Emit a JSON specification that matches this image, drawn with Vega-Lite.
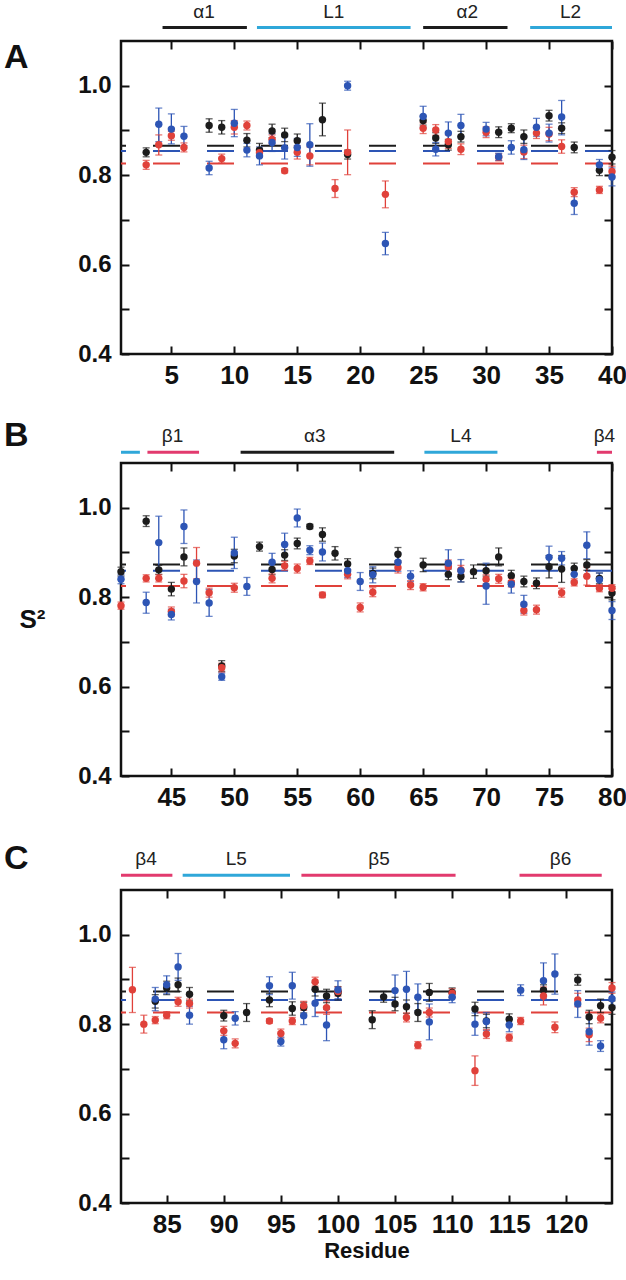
{
"$schema": "https://vega.github.io/schema/vega-lite/v6.json",
"padding": {"left": 2, "top": 2, "right": 0, "bottom": 4},
"background": "white",
"config": {
  "view": {"stroke": "#111", "strokeWidth": 2.5},
  "axis": {"domain": false, "grid": false, "tickSize": -8, "tickWidth": 2, "tickColor": "#111", "labelColor": "#111", "labelFont": "Liberation Sans", "labelFontWeight": "bold", "titleFont": "Liberation Sans", "titleFontWeight": "bold", "titleColor": "#111"}
},
"datasets": {
"avg": [
 {"p":"A","s":"k","v":0.866},{"p":"A","s":"b","v":0.854},{"p":"A","s":"r","v":0.826},
 {"p":"B","s":"k","v":0.873},{"p":"B","s":"b","v":0.859},{"p":"B","s":"r","v":0.825},
 {"p":"C","s":"k","v":0.873},{"p":"C","s":"b","v":0.854},{"p":"C","s":"r","v":0.826}
],
"ss": [
 {"p":"A","t":"H","a":4.3,"b":11,"m":7.6,"n":"α1"},
 {"p":"A","t":"L","a":11.8,"b":24,"m":17.9,"n":"L1"},
 {"p":"A","t":"H","a":25,"b":31.7,"m":28.5,"n":"α2"},
 {"p":"A","t":"L","a":33.5,"b":40,"m":36.7,"n":"L2"},
 {"p":"B","t":"L","a":41,"b":42.5,"m":41.7,"n":""},
 {"p":"B","t":"E","a":43.1,"b":47.2,"m":45.1,"n":"β1"},
 {"p":"B","t":"H","a":50.5,"b":62.7,"m":56.4,"n":"α3"},
 {"p":"B","t":"L","a":65.1,"b":70.9,"m":68,"n":"L4"},
 {"p":"B","t":"E","a":78.8,"b":80,"m":79.4,"n":"β4"},
 {"p":"C","t":"E","a":81,"b":85.5,"m":83.2,"n":"β4"},
 {"p":"C","t":"L","a":86.4,"b":95.8,"m":91.1,"n":"L5"},
 {"p":"C","t":"E","a":96.8,"b":110.3,"m":103.6,"n":"β5"},
 {"p":"C","t":"E","a":115.9,"b":123.1,"m":119.5,"n":"β6"}
],
"pts": [
 {"p":"A","r":3,"s":"k","v":0.851,"lo":0.841,"hi":0.861},
 {"p":"A","r":8,"s":"k","v":0.911,"lo":0.896,"hi":0.926},
 {"p":"A","r":9,"s":"k","v":0.907,"lo":0.892,"hi":0.922},
 {"p":"A","r":11,"s":"k","v":0.878,"lo":0.863,"hi":0.893},
 {"p":"A","r":12,"s":"k","v":0.856,"lo":0.841,"hi":0.871},
 {"p":"A","r":13,"s":"k","v":0.899,"lo":0.884,"hi":0.914},
 {"p":"A","r":14,"s":"k","v":0.89,"lo":0.875,"hi":0.905},
 {"p":"A","r":15,"s":"k","v":0.877,"lo":0.862,"hi":0.892},
 {"p":"A","r":17,"s":"k","v":0.924,"lo":0.888,"hi":0.961},
 {"p":"A","r":19,"s":"k","v":0.846,"lo":0.836,"hi":0.856},
 {"p":"A","r":25,"s":"k","v":0.922,"lo":0.912,"hi":0.932},
 {"p":"A","r":26,"s":"k","v":0.883,"lo":0.871,"hi":0.895},
 {"p":"A","r":27,"s":"k","v":0.868,"lo":0.856,"hi":0.88},
 {"p":"A","r":28,"s":"k","v":0.886,"lo":0.874,"hi":0.898},
 {"p":"A","r":31,"s":"k","v":0.896,"lo":0.884,"hi":0.908},
 {"p":"A","r":32,"s":"k","v":0.905,"lo":0.895,"hi":0.915},
 {"p":"A","r":33,"s":"k","v":0.886,"lo":0.871,"hi":0.901},
 {"p":"A","r":35,"s":"k","v":0.933,"lo":0.921,"hi":0.945},
 {"p":"A","r":36,"s":"k","v":0.905,"lo":0.893,"hi":0.917},
 {"p":"A","r":37,"s":"k","v":0.862,"lo":0.85,"hi":0.874},
 {"p":"A","r":39,"s":"k","v":0.811,"lo":0.799,"hi":0.823},
 {"p":"A","r":40,"s":"k","v":0.84,"lo":0.825,"hi":0.855},
 {"p":"A","r":3,"s":"r","v":0.823,"lo":0.813,"hi":0.833},
 {"p":"A","r":4,"s":"r","v":0.868,"lo":0.845,"hi":0.89},
 {"p":"A","r":5,"s":"r","v":0.888,"lo":0.878,"hi":0.898},
 {"p":"A","r":6,"s":"r","v":0.862,"lo":0.852,"hi":0.872},
 {"p":"A","r":9,"s":"r","v":0.837,"lo":0.827,"hi":0.847},
 {"p":"A","r":10,"s":"r","v":0.907,"lo":0.892,"hi":0.922},
 {"p":"A","r":11,"s":"r","v":0.911,"lo":0.901,"hi":0.921},
 {"p":"A","r":12,"s":"r","v":0.85,"lo":0.84,"hi":0.86},
 {"p":"A","r":13,"s":"r","v":0.88,"lo":0.87,"hi":0.89},
 {"p":"A","r":14,"s":"r","v":0.81,"lo":0.805,"hi":0.815},
 {"p":"A","r":15,"s":"r","v":0.851,"lo":0.836,"hi":0.866},
 {"p":"A","r":16,"s":"r","v":0.843,"lo":0.823,"hi":0.863},
 {"p":"A","r":18,"s":"r","v":0.77,"lo":0.75,"hi":0.79},
 {"p":"A","r":19,"s":"r","v":0.851,"lo":0.801,"hi":0.901},
 {"p":"A","r":22,"s":"r","v":0.757,"lo":0.727,"hi":0.787},
 {"p":"A","r":25,"s":"r","v":0.905,"lo":0.893,"hi":0.917},
 {"p":"A","r":26,"s":"r","v":0.901,"lo":0.889,"hi":0.913},
 {"p":"A","r":27,"s":"r","v":0.875,"lo":0.86,"hi":0.89},
 {"p":"A","r":28,"s":"r","v":0.858,"lo":0.846,"hi":0.87},
 {"p":"A","r":30,"s":"r","v":0.896,"lo":0.884,"hi":0.908},
 {"p":"A","r":31,"s":"r","v":0.84,"lo":0.832,"hi":0.848},
 {"p":"A","r":33,"s":"r","v":0.852,"lo":0.837,"hi":0.867},
 {"p":"A","r":34,"s":"r","v":0.894,"lo":0.882,"hi":0.906},
 {"p":"A","r":35,"s":"r","v":0.892,"lo":0.877,"hi":0.907},
 {"p":"A","r":36,"s":"r","v":0.864,"lo":0.849,"hi":0.879},
 {"p":"A","r":37,"s":"r","v":0.762,"lo":0.752,"hi":0.772},
 {"p":"A","r":39,"s":"r","v":0.767,"lo":0.759,"hi":0.775},
 {"p":"A","r":40,"s":"r","v":0.808,"lo":0.796,"hi":0.82},
 {"p":"A","r":4,"s":"b","v":0.914,"lo":0.875,"hi":0.95},
 {"p":"A","r":5,"s":"b","v":0.903,"lo":0.87,"hi":0.937},
 {"p":"A","r":6,"s":"b","v":0.887,"lo":0.866,"hi":0.909},
 {"p":"A","r":8,"s":"b","v":0.816,"lo":0.801,"hi":0.831},
 {"p":"A","r":10,"s":"b","v":0.916,"lo":0.886,"hi":0.947},
 {"p":"A","r":11,"s":"b","v":0.856,"lo":0.841,"hi":0.871},
 {"p":"A","r":12,"s":"b","v":0.843,"lo":0.823,"hi":0.863},
 {"p":"A","r":13,"s":"b","v":0.873,"lo":0.853,"hi":0.893},
 {"p":"A","r":14,"s":"b","v":0.861,"lo":0.836,"hi":0.886},
 {"p":"A","r":15,"s":"b","v":0.862,"lo":0.842,"hi":0.882},
 {"p":"A","r":16,"s":"b","v":0.868,"lo":0.82,"hi":0.915},
 {"p":"A","r":19,"s":"b","v":1.0,"lo":0.99,"hi":1.01},
 {"p":"A","r":22,"s":"b","v":0.647,"lo":0.622,"hi":0.672},
 {"p":"A","r":25,"s":"b","v":0.931,"lo":0.907,"hi":0.954},
 {"p":"A","r":26,"s":"b","v":0.858,"lo":0.843,"hi":0.873},
 {"p":"A","r":27,"s":"b","v":0.894,"lo":0.869,"hi":0.919},
 {"p":"A","r":28,"s":"b","v":0.911,"lo":0.886,"hi":0.936},
 {"p":"A","r":30,"s":"b","v":0.903,"lo":0.888,"hi":0.918},
 {"p":"A","r":31,"s":"b","v":0.841,"lo":0.833,"hi":0.849},
 {"p":"A","r":32,"s":"b","v":0.862,"lo":0.847,"hi":0.877},
 {"p":"A","r":33,"s":"b","v":0.857,"lo":0.835,"hi":0.885},
 {"p":"A","r":34,"s":"b","v":0.907,"lo":0.887,"hi":0.927},
 {"p":"A","r":35,"s":"b","v":0.894,"lo":0.874,"hi":0.914},
 {"p":"A","r":36,"s":"b","v":0.93,"lo":0.89,"hi":0.967},
 {"p":"A","r":37,"s":"b","v":0.737,"lo":0.712,"hi":0.762},
 {"p":"A","r":39,"s":"b","v":0.823,"lo":0.811,"hi":0.835},
 {"p":"A","r":40,"s":"b","v":0.796,"lo":0.776,"hi":0.816},
 {"p":"B","r":41,"s":"k","v":0.857,"lo":0.847,"hi":0.867},
 {"p":"B","r":43,"s":"k","v":0.97,"lo":0.958,"hi":0.982},
 {"p":"B","r":44,"s":"k","v":0.861,"lo":0.851,"hi":0.871},
 {"p":"B","r":45,"s":"k","v":0.818,"lo":0.803,"hi":0.833},
 {"p":"B","r":46,"s":"k","v":0.89,"lo":0.87,"hi":0.91},
 {"p":"B","r":49,"s":"k","v":0.646,"lo":0.634,"hi":0.658},
 {"p":"B","r":50,"s":"k","v":0.892,"lo":0.877,"hi":0.907},
 {"p":"B","r":52,"s":"k","v":0.913,"lo":0.903,"hi":0.923},
 {"p":"B","r":53,"s":"k","v":0.862,"lo":0.85,"hi":0.874},
 {"p":"B","r":54,"s":"k","v":0.894,"lo":0.882,"hi":0.906},
 {"p":"B","r":55,"s":"k","v":0.92,"lo":0.908,"hi":0.932},
 {"p":"B","r":56,"s":"k","v":0.958,"lo":0.953,"hi":0.963},
 {"p":"B","r":57,"s":"k","v":0.94,"lo":0.925,"hi":0.955},
 {"p":"B","r":58,"s":"k","v":0.898,"lo":0.883,"hi":0.913},
 {"p":"B","r":59,"s":"k","v":0.874,"lo":0.862,"hi":0.886},
 {"p":"B","r":61,"s":"k","v":0.853,"lo":0.841,"hi":0.865},
 {"p":"B","r":63,"s":"k","v":0.896,"lo":0.881,"hi":0.911},
 {"p":"B","r":65,"s":"k","v":0.872,"lo":0.857,"hi":0.887},
 {"p":"B","r":67,"s":"k","v":0.851,"lo":0.839,"hi":0.863},
 {"p":"B","r":68,"s":"k","v":0.846,"lo":0.834,"hi":0.858},
 {"p":"B","r":69,"s":"k","v":0.857,"lo":0.842,"hi":0.872},
 {"p":"B","r":70,"s":"k","v":0.859,"lo":0.847,"hi":0.871},
 {"p":"B","r":71,"s":"k","v":0.89,"lo":0.87,"hi":0.91},
 {"p":"B","r":72,"s":"k","v":0.848,"lo":0.836,"hi":0.86},
 {"p":"B","r":73,"s":"k","v":0.835,"lo":0.823,"hi":0.847},
 {"p":"B","r":74,"s":"k","v":0.831,"lo":0.819,"hi":0.843},
 {"p":"B","r":75,"s":"k","v":0.868,"lo":0.843,"hi":0.893},
 {"p":"B","r":76,"s":"k","v":0.863,"lo":0.833,"hi":0.893},
 {"p":"B","r":77,"s":"k","v":0.864,"lo":0.852,"hi":0.876},
 {"p":"B","r":78,"s":"k","v":0.872,"lo":0.86,"hi":0.884},
 {"p":"B","r":79,"s":"k","v":0.842,"lo":0.83,"hi":0.854},
 {"p":"B","r":80,"s":"k","v":0.809,"lo":0.794,"hi":0.824},
 {"p":"B","r":41,"s":"r","v":0.781,"lo":0.773,"hi":0.789},
 {"p":"B","r":43,"s":"r","v":0.842,"lo":0.834,"hi":0.85},
 {"p":"B","r":44,"s":"r","v":0.842,"lo":0.834,"hi":0.85},
 {"p":"B","r":45,"s":"r","v":0.768,"lo":0.758,"hi":0.778},
 {"p":"B","r":46,"s":"r","v":0.836,"lo":0.821,"hi":0.851},
 {"p":"B","r":47,"s":"r","v":0.876,"lo":0.841,"hi":0.911},
 {"p":"B","r":48,"s":"r","v":0.81,"lo":0.8,"hi":0.82},
 {"p":"B","r":49,"s":"r","v":0.642,"lo":0.632,"hi":0.652},
 {"p":"B","r":50,"s":"r","v":0.821,"lo":0.811,"hi":0.831},
 {"p":"B","r":53,"s":"r","v":0.842,"lo":0.832,"hi":0.852},
 {"p":"B","r":54,"s":"r","v":0.87,"lo":0.86,"hi":0.88},
 {"p":"B","r":55,"s":"r","v":0.864,"lo":0.854,"hi":0.874},
 {"p":"B","r":56,"s":"r","v":0.881,"lo":0.873,"hi":0.889},
 {"p":"B","r":57,"s":"r","v":0.805,"lo":0.799,"hi":0.811},
 {"p":"B","r":59,"s":"r","v":0.851,"lo":0.841,"hi":0.861},
 {"p":"B","r":60,"s":"r","v":0.777,"lo":0.767,"hi":0.787},
 {"p":"B","r":61,"s":"r","v":0.811,"lo":0.801,"hi":0.821},
 {"p":"B","r":63,"s":"r","v":0.866,"lo":0.854,"hi":0.878},
 {"p":"B","r":64,"s":"r","v":0.827,"lo":0.817,"hi":0.837},
 {"p":"B","r":65,"s":"r","v":0.822,"lo":0.814,"hi":0.83},
 {"p":"B","r":67,"s":"r","v":0.868,"lo":0.853,"hi":0.883},
 {"p":"B","r":68,"s":"r","v":0.861,"lo":0.851,"hi":0.871},
 {"p":"B","r":70,"s":"r","v":0.84,"lo":0.83,"hi":0.85},
 {"p":"B","r":71,"s":"r","v":0.841,"lo":0.831,"hi":0.851},
 {"p":"B","r":72,"s":"r","v":0.833,"lo":0.823,"hi":0.843},
 {"p":"B","r":73,"s":"r","v":0.77,"lo":0.76,"hi":0.78},
 {"p":"B","r":74,"s":"r","v":0.772,"lo":0.762,"hi":0.782},
 {"p":"B","r":76,"s":"r","v":0.81,"lo":0.8,"hi":0.82},
 {"p":"B","r":77,"s":"r","v":0.833,"lo":0.825,"hi":0.841},
 {"p":"B","r":78,"s":"r","v":0.847,"lo":0.827,"hi":0.867},
 {"p":"B","r":79,"s":"r","v":0.82,"lo":0.812,"hi":0.828},
 {"p":"B","r":80,"s":"r","v":0.82,"lo":0.812,"hi":0.828},
 {"p":"B","r":41,"s":"b","v":0.84,"lo":0.83,"hi":0.85},
 {"p":"B","r":43,"s":"b","v":0.788,"lo":0.764,"hi":0.811},
 {"p":"B","r":44,"s":"b","v":0.922,"lo":0.86,"hi":0.981},
 {"p":"B","r":45,"s":"b","v":0.761,"lo":0.749,"hi":0.773},
 {"p":"B","r":46,"s":"b","v":0.958,"lo":0.92,"hi":0.995},
 {"p":"B","r":47,"s":"b","v":0.835,"lo":0.787,"hi":0.883},
 {"p":"B","r":48,"s":"b","v":0.787,"lo":0.757,"hi":0.817},
 {"p":"B","r":49,"s":"b","v":0.622,"lo":0.614,"hi":0.63},
 {"p":"B","r":50,"s":"b","v":0.899,"lo":0.864,"hi":0.934},
 {"p":"B","r":51,"s":"b","v":0.824,"lo":0.804,"hi":0.844},
 {"p":"B","r":53,"s":"b","v":0.878,"lo":0.858,"hi":0.898},
 {"p":"B","r":54,"s":"b","v":0.918,"lo":0.893,"hi":0.943},
 {"p":"B","r":55,"s":"b","v":0.977,"lo":0.957,"hi":0.997},
 {"p":"B","r":56,"s":"b","v":0.905,"lo":0.895,"hi":0.915},
 {"p":"B","r":57,"s":"b","v":0.901,"lo":0.881,"hi":0.921},
 {"p":"B","r":59,"s":"b","v":0.859,"lo":0.844,"hi":0.874},
 {"p":"B","r":60,"s":"b","v":0.835,"lo":0.815,"hi":0.855},
 {"p":"B","r":61,"s":"b","v":0.85,"lo":0.832,"hi":0.868},
 {"p":"B","r":63,"s":"b","v":0.878,"lo":0.858,"hi":0.898},
 {"p":"B","r":64,"s":"b","v":0.847,"lo":0.835,"hi":0.859},
 {"p":"B","r":67,"s":"b","v":0.876,"lo":0.846,"hi":0.906},
 {"p":"B","r":68,"s":"b","v":0.859,"lo":0.834,"hi":0.884},
 {"p":"B","r":70,"s":"b","v":0.825,"lo":0.784,"hi":0.876},
 {"p":"B","r":72,"s":"b","v":0.829,"lo":0.809,"hi":0.849},
 {"p":"B","r":73,"s":"b","v":0.784,"lo":0.764,"hi":0.804},
 {"p":"B","r":75,"s":"b","v":0.889,"lo":0.864,"hi":0.914},
 {"p":"B","r":76,"s":"b","v":0.887,"lo":0.872,"hi":0.902},
 {"p":"B","r":77,"s":"b","v":0.851,"lo":0.836,"hi":0.866},
 {"p":"B","r":78,"s":"b","v":0.916,"lo":0.886,"hi":0.946},
 {"p":"B","r":79,"s":"b","v":0.839,"lo":0.824,"hi":0.854},
 {"p":"B","r":80,"s":"b","v":0.77,"lo":0.75,"hi":0.79},
 {"p":"C","r":84,"s":"k","v":0.851,"lo":0.836,"hi":0.866},
 {"p":"C","r":85,"s":"k","v":0.881,"lo":0.866,"hi":0.896},
 {"p":"C","r":86,"s":"k","v":0.888,"lo":0.873,"hi":0.903},
 {"p":"C","r":87,"s":"k","v":0.867,"lo":0.852,"hi":0.882},
 {"p":"C","r":90,"s":"k","v":0.819,"lo":0.807,"hi":0.831},
 {"p":"C","r":92,"s":"k","v":0.826,"lo":0.806,"hi":0.846},
 {"p":"C","r":94,"s":"k","v":0.854,"lo":0.839,"hi":0.869},
 {"p":"C","r":96,"s":"k","v":0.835,"lo":0.82,"hi":0.85},
 {"p":"C","r":97,"s":"k","v":0.837,"lo":0.825,"hi":0.849},
 {"p":"C","r":98,"s":"k","v":0.878,"lo":0.863,"hi":0.893},
 {"p":"C","r":99,"s":"k","v":0.863,"lo":0.848,"hi":0.878},
 {"p":"C","r":100,"s":"k","v":0.869,"lo":0.854,"hi":0.884},
 {"p":"C","r":103,"s":"k","v":0.81,"lo":0.79,"hi":0.83},
 {"p":"C","r":104,"s":"k","v":0.861,"lo":0.849,"hi":0.873},
 {"p":"C","r":105,"s":"k","v":0.845,"lo":0.83,"hi":0.86},
 {"p":"C","r":106,"s":"k","v":0.839,"lo":0.824,"hi":0.854},
 {"p":"C","r":107,"s":"k","v":0.826,"lo":0.806,"hi":0.846},
 {"p":"C","r":108,"s":"k","v":0.871,"lo":0.851,"hi":0.891},
 {"p":"C","r":110,"s":"k","v":0.871,"lo":0.861,"hi":0.881},
 {"p":"C","r":112,"s":"k","v":0.834,"lo":0.819,"hi":0.849},
 {"p":"C","r":113,"s":"k","v":0.807,"lo":0.792,"hi":0.822},
 {"p":"C","r":115,"s":"k","v":0.811,"lo":0.799,"hi":0.823},
 {"p":"C","r":118,"s":"k","v":0.876,"lo":0.864,"hi":0.888},
 {"p":"C","r":121,"s":"k","v":0.899,"lo":0.887,"hi":0.911},
 {"p":"C","r":122,"s":"k","v":0.816,"lo":0.801,"hi":0.831},
 {"p":"C","r":123,"s":"k","v":0.841,"lo":0.826,"hi":0.856},
 {"p":"C","r":124,"s":"k","v":0.837,"lo":0.822,"hi":0.852},
 {"p":"C","r":82,"s":"r","v":0.877,"lo":0.826,"hi":0.927},
 {"p":"C","r":83,"s":"r","v":0.8,"lo":0.78,"hi":0.82},
 {"p":"C","r":84,"s":"r","v":0.809,"lo":0.801,"hi":0.817},
 {"p":"C","r":85,"s":"r","v":0.82,"lo":0.812,"hi":0.828},
 {"p":"C","r":86,"s":"r","v":0.85,"lo":0.84,"hi":0.86},
 {"p":"C","r":87,"s":"r","v":0.846,"lo":0.836,"hi":0.856},
 {"p":"C","r":90,"s":"r","v":0.785,"lo":0.775,"hi":0.795},
 {"p":"C","r":91,"s":"r","v":0.757,"lo":0.747,"hi":0.767},
 {"p":"C","r":94,"s":"r","v":0.807,"lo":0.802,"hi":0.812},
 {"p":"C","r":95,"s":"r","v":0.779,"lo":0.769,"hi":0.789},
 {"p":"C","r":96,"s":"r","v":0.807,"lo":0.799,"hi":0.815},
 {"p":"C","r":97,"s":"r","v":0.841,"lo":0.831,"hi":0.851},
 {"p":"C","r":98,"s":"r","v":0.895,"lo":0.885,"hi":0.905},
 {"p":"C","r":99,"s":"r","v":0.837,"lo":0.822,"hi":0.852},
 {"p":"C","r":100,"s":"r","v":0.873,"lo":0.863,"hi":0.883},
 {"p":"C","r":106,"s":"r","v":0.815,"lo":0.805,"hi":0.825},
 {"p":"C","r":107,"s":"r","v":0.753,"lo":0.745,"hi":0.761},
 {"p":"C","r":108,"s":"r","v":0.826,"lo":0.816,"hi":0.836},
 {"p":"C","r":110,"s":"r","v":0.869,"lo":0.859,"hi":0.879},
 {"p":"C","r":112,"s":"r","v":0.696,"lo":0.663,"hi":0.729},
 {"p":"C","r":113,"s":"r","v":0.778,"lo":0.768,"hi":0.788},
 {"p":"C","r":115,"s":"r","v":0.77,"lo":0.762,"hi":0.778},
 {"p":"C","r":116,"s":"r","v":0.807,"lo":0.799,"hi":0.815},
 {"p":"C","r":118,"s":"r","v":0.863,"lo":0.843,"hi":0.883},
 {"p":"C","r":119,"s":"r","v":0.793,"lo":0.781,"hi":0.805},
 {"p":"C","r":121,"s":"r","v":0.854,"lo":0.839,"hi":0.869},
 {"p":"C","r":122,"s":"r","v":0.776,"lo":0.761,"hi":0.791},
 {"p":"C","r":123,"s":"r","v":0.813,"lo":0.803,"hi":0.823},
 {"p":"C","r":124,"s":"r","v":0.881,"lo":0.869,"hi":0.893},
 {"p":"C","r":84,"s":"b","v":0.856,"lo":0.83,"hi":0.882},
 {"p":"C","r":85,"s":"b","v":0.888,"lo":0.868,"hi":0.908},
 {"p":"C","r":86,"s":"b","v":0.928,"lo":0.898,"hi":0.958},
 {"p":"C","r":87,"s":"b","v":0.82,"lo":0.8,"hi":0.84},
 {"p":"C","r":90,"s":"b","v":0.765,"lo":0.745,"hi":0.785},
 {"p":"C","r":91,"s":"b","v":0.813,"lo":0.798,"hi":0.828},
 {"p":"C","r":94,"s":"b","v":0.886,"lo":0.866,"hi":0.906},
 {"p":"C","r":95,"s":"b","v":0.761,"lo":0.751,"hi":0.771},
 {"p":"C","r":96,"s":"b","v":0.886,"lo":0.856,"hi":0.916},
 {"p":"C","r":97,"s":"b","v":0.819,"lo":0.799,"hi":0.839},
 {"p":"C","r":98,"s":"b","v":0.847,"lo":0.817,"hi":0.877},
 {"p":"C","r":99,"s":"b","v":0.798,"lo":0.763,"hi":0.833},
 {"p":"C","r":100,"s":"b","v":0.877,"lo":0.857,"hi":0.897},
 {"p":"C","r":105,"s":"b","v":0.875,"lo":0.84,"hi":0.91},
 {"p":"C","r":106,"s":"b","v":0.878,"lo":0.838,"hi":0.918},
 {"p":"C","r":107,"s":"b","v":0.86,"lo":0.83,"hi":0.89},
 {"p":"C","r":108,"s":"b","v":0.805,"lo":0.765,"hi":0.845},
 {"p":"C","r":110,"s":"b","v":0.86,"lo":0.848,"hi":0.872},
 {"p":"C","r":112,"s":"b","v":0.8,"lo":0.775,"hi":0.825},
 {"p":"C","r":113,"s":"b","v":0.806,"lo":0.786,"hi":0.826},
 {"p":"C","r":115,"s":"b","v":0.798,"lo":0.783,"hi":0.813},
 {"p":"C","r":116,"s":"b","v":0.876,"lo":0.864,"hi":0.888},
 {"p":"C","r":118,"s":"b","v":0.897,"lo":0.857,"hi":0.937},
 {"p":"C","r":119,"s":"b","v":0.912,"lo":0.867,"hi":0.957},
 {"p":"C","r":121,"s":"b","v":0.845,"lo":0.815,"hi":0.875},
 {"p":"C","r":122,"s":"b","v":0.783,"lo":0.753,"hi":0.813},
 {"p":"C","r":123,"s":"b","v":0.751,"lo":0.739,"hi":0.763},
 {"p":"C","r":124,"s":"b","v":0.857,"lo":0.842,"hi":0.872}
]
},
"bounds": "flush",
"spacing": 849,
"vconcat": [
{"bounds": "flush", "spacing": 109, "vconcat": [
{
 "width": 491, "height": 313,
 "resolve": {"axis": {"x": "independent", "y": "independent"}},
 "layer": [
  {"data": {"name": "avg"}, "transform": [{"filter": "datum.p == 'A'"}],
   "mark": {"type": "rule", "strokeDash": [27, 27], "strokeWidth": 2},
   "encoding": {"y": {"field": "v", "type": "quantitative", "scale": {"domain": [0.4, 1.1], "nice": false, "zero": false}, "axis": null},
     "color": {"field": "s", "type": "nominal", "scale": {"domain": ["k","b","r","H","L","E"], "range": ["#1c1c1c","#2d55b5","#e0413a","#1c1c1c","#2fa7d9","#e23a6e"]}, "legend": null}}},
  {"data": {"name": "pts"}, "transform": [{"filter": "datum.p == 'A'"}],
   "mark": {"type": "rule", "strokeWidth": 1.3},
   "encoding": {"x": {"field": "r", "type": "quantitative", "scale": {"domain": [1, 40], "nice": false, "zero": false}, "axis": {"orient": "top", "values": [5,10,15,20,25,30,35,40], "labels": false, "title": null}},
     "y": {"field": "lo", "type": "quantitative", "scale": {"domain": [0.4, 1.1], "nice": false, "zero": false}, "axis": {"orient": "right", "values": [0.4,0.5,0.6,0.7,0.8,0.9,1.0], "labels": false, "title": null}},
     "y2": {"field": "hi"},
     "color": {"field": "s", "type": "nominal", "scale": {"domain": ["k","b","r","H","L","E"], "range": ["#1c1c1c","#2d55b5","#e0413a","#1c1c1c","#2fa7d9","#e23a6e"]}, "legend": null}}},
  {"data": {"name": "pts"}, "transform": [{"filter": "datum.p == 'A'"}],
   "mark": {"type": "tick", "orient": "horizontal", "size": 7, "thickness": 1.3},
   "encoding": {"x": {"field": "r", "type": "quantitative", "scale": {"domain": [1, 40], "nice": false, "zero": false}, "axis": null},
     "y": {"field": "lo", "type": "quantitative", "scale": {"domain": [0.4, 1.1], "nice": false, "zero": false}, "axis": null},
     "color": {"field": "s", "type": "nominal", "scale": {"domain": ["k","b","r","H","L","E"], "range": ["#1c1c1c","#2d55b5","#e0413a","#1c1c1c","#2fa7d9","#e23a6e"]}, "legend": null}}},
  {"data": {"name": "pts"}, "transform": [{"filter": "datum.p == 'A'"}],
   "mark": {"type": "tick", "orient": "horizontal", "size": 7, "thickness": 1.3},
   "encoding": {"x": {"field": "r", "type": "quantitative", "scale": {"domain": [1, 40], "nice": false, "zero": false}, "axis": null},
     "y": {"field": "hi", "type": "quantitative", "scale": {"domain": [0.4, 1.1], "nice": false, "zero": false}, "axis": null},
     "color": {"field": "s", "type": "nominal", "scale": {"domain": ["k","b","r","H","L","E"], "range": ["#1c1c1c","#2d55b5","#e0413a","#1c1c1c","#2fa7d9","#e23a6e"]}, "legend": null}}},
  {"data": {"name": "pts"}, "transform": [{"filter": "datum.p == 'A'"}],
   "mark": {"type": "circle", "size": 55, "opacity": 1},
   "encoding": {"x": {"field": "r", "type": "quantitative", "scale": {"domain": [1, 40], "nice": false, "zero": false}, "axis": {"orient": "bottom", "values": [5,10,15,20,25,30,35,40], "format": "d", "labelFontSize": 26, "labelPadding": 16, "labelFlush": false, "title": null}},
     "y": {"field": "v", "type": "quantitative", "scale": {"domain": [0.4, 1.1], "nice": false, "zero": false}, "axis": {"orient": "left", "values": [0.4,0.5,0.6,0.7,0.8,0.9,1.0], "labelExpr": "round(datum.value*10) % 2 == 0 ? format(datum.value, '.1f') : ''", "labelFontSize": 24, "labelPadding": 18, "title": null}},
     "color": {"field": "s", "type": "nominal", "scale": {"domain": ["k","b","r","H","L","E"], "range": ["#1c1c1c","#2d55b5","#e0413a","#1c1c1c","#2fa7d9","#e23a6e"]}, "legend": null}}},
  {"data": {"name": "ss"}, "transform": [{"filter": "datum.p == 'A'"}],
   "mark": {"type": "rule", "strokeWidth": 3},
   "encoding": {"x": {"field": "a", "type": "quantitative", "scale": {"domain": [1, 40], "nice": false, "zero": false}, "axis": null},
     "x2": {"field": "b"},
     "y": {"datum": 1.13, "type": "quantitative", "scale": {"domain": [0.4, 1.1], "nice": false, "zero": false}, "axis": null},
     "color": {"field": "t", "type": "nominal", "scale": {"domain": ["k","b","r","H","L","E"], "range": ["#1c1c1c","#2d55b5","#e0413a","#1c1c1c","#2fa7d9","#e23a6e"]}, "legend": null}}},
  {"data": {"name": "ss"}, "transform": [{"filter": "datum.p == 'A'"}],
   "mark": {"type": "text", "fontSize": 19, "font": "Liberation Sans", "color": "#222", "baseline": "middle"},
   "encoding": {"x": {"field": "m", "type": "quantitative", "scale": {"domain": [1, 40], "nice": false, "zero": false}, "axis": null},
     "y": {"datum": 1.164, "type": "quantitative", "scale": {"domain": [0.4, 1.1], "nice": false, "zero": false}, "axis": null},
     "text": {"field": "n"}}},
  {"data": {"values": [{}]},
   "mark": {"type": "text", "fontSize": 34, "fontWeight": "bold", "font": "Liberation Sans", "align": "left", "baseline": "middle", "color": "#111"},
   "encoding": {"x": {"datum": -8.29, "type": "quantitative", "scale": {"domain": [1, 40], "nice": false, "zero": false}, "axis": null},
     "y": {"datum": 1.063, "type": "quantitative", "scale": {"domain": [0.4, 1.1], "nice": false, "zero": false}, "axis": null},
     "text": {"value": "A"}}}
 ]
},
{
 "width": 491, "height": 313,
 "resolve": {"axis": {"x": "independent", "y": "independent"}},
 "layer": [
  {"data": {"name": "avg"}, "transform": [{"filter": "datum.p == 'B'"}],
   "mark": {"type": "rule", "strokeDash": [27, 27], "strokeWidth": 2},
   "encoding": {"y": {"field": "v", "type": "quantitative", "scale": {"domain": [0.4, 1.1], "nice": false, "zero": false}, "axis": null},
     "color": {"field": "s", "type": "nominal", "scale": {"domain": ["k","b","r","H","L","E"], "range": ["#1c1c1c","#2d55b5","#e0413a","#1c1c1c","#2fa7d9","#e23a6e"]}, "legend": null}}},
  {"data": {"name": "pts"}, "transform": [{"filter": "datum.p == 'B'"}],
   "mark": {"type": "rule", "strokeWidth": 1.3},
   "encoding": {"x": {"field": "r", "type": "quantitative", "scale": {"domain": [41, 80], "nice": false, "zero": false}, "axis": {"orient": "top", "values": [45,50,55,60,65,70,75,80], "labels": false, "title": null}},
     "y": {"field": "lo", "type": "quantitative", "scale": {"domain": [0.4, 1.1], "nice": false, "zero": false}, "axis": {"orient": "right", "values": [0.4,0.5,0.6,0.7,0.8,0.9,1.0], "labels": false, "title": null}},
     "y2": {"field": "hi"},
     "color": {"field": "s", "type": "nominal", "scale": {"domain": ["k","b","r","H","L","E"], "range": ["#1c1c1c","#2d55b5","#e0413a","#1c1c1c","#2fa7d9","#e23a6e"]}, "legend": null}}},
  {"data": {"name": "pts"}, "transform": [{"filter": "datum.p == 'B'"}],
   "mark": {"type": "tick", "orient": "horizontal", "size": 7, "thickness": 1.3},
   "encoding": {"x": {"field": "r", "type": "quantitative", "scale": {"domain": [41, 80], "nice": false, "zero": false}, "axis": null},
     "y": {"field": "lo", "type": "quantitative", "scale": {"domain": [0.4, 1.1], "nice": false, "zero": false}, "axis": null},
     "color": {"field": "s", "type": "nominal", "scale": {"domain": ["k","b","r","H","L","E"], "range": ["#1c1c1c","#2d55b5","#e0413a","#1c1c1c","#2fa7d9","#e23a6e"]}, "legend": null}}},
  {"data": {"name": "pts"}, "transform": [{"filter": "datum.p == 'B'"}],
   "mark": {"type": "tick", "orient": "horizontal", "size": 7, "thickness": 1.3},
   "encoding": {"x": {"field": "r", "type": "quantitative", "scale": {"domain": [41, 80], "nice": false, "zero": false}, "axis": null},
     "y": {"field": "hi", "type": "quantitative", "scale": {"domain": [0.4, 1.1], "nice": false, "zero": false}, "axis": null},
     "color": {"field": "s", "type": "nominal", "scale": {"domain": ["k","b","r","H","L","E"], "range": ["#1c1c1c","#2d55b5","#e0413a","#1c1c1c","#2fa7d9","#e23a6e"]}, "legend": null}}},
  {"data": {"name": "pts"}, "transform": [{"filter": "datum.p == 'B'"}],
   "mark": {"type": "circle", "size": 55, "opacity": 1},
   "encoding": {"x": {"field": "r", "type": "quantitative", "scale": {"domain": [41, 80], "nice": false, "zero": false}, "axis": {"orient": "bottom", "values": [45,50,55,60,65,70,75,80], "format": "d", "labelFontSize": 26, "labelPadding": 16, "labelFlush": false, "title": null}},
     "y": {"field": "v", "type": "quantitative", "scale": {"domain": [0.4, 1.1], "nice": false, "zero": false}, "axis": {"orient": "left", "values": [0.4,0.5,0.6,0.7,0.8,0.9,1.0], "labelExpr": "round(datum.value*10) % 2 == 0 ? format(datum.value, '.1f') : ''", "labelFontSize": 24, "labelPadding": 18, "title": "S²", "titleAngle": 0, "titleFontSize": 26, "titleX": -89, "titleY": 156, "titleAlign": "center", "titleBaseline": "middle"}},
     "color": {"field": "s", "type": "nominal", "scale": {"domain": ["k","b","r","H","L","E"], "range": ["#1c1c1c","#2d55b5","#e0413a","#1c1c1c","#2fa7d9","#e23a6e"]}, "legend": null}}},
  {"data": {"name": "ss"}, "transform": [{"filter": "datum.p == 'B'"}],
   "mark": {"type": "rule", "strokeWidth": 3},
   "encoding": {"x": {"field": "a", "type": "quantitative", "scale": {"domain": [41, 80], "nice": false, "zero": false}, "axis": null},
     "x2": {"field": "b"},
     "y": {"datum": 1.124, "type": "quantitative", "scale": {"domain": [0.4, 1.1], "nice": false, "zero": false}, "axis": null},
     "color": {"field": "t", "type": "nominal", "scale": {"domain": ["k","b","r","H","L","E"], "range": ["#1c1c1c","#2d55b5","#e0413a","#1c1c1c","#2fa7d9","#e23a6e"]}, "legend": null}}},
  {"data": {"name": "ss"}, "transform": [{"filter": "datum.p == 'B'"}],
   "mark": {"type": "text", "fontSize": 19, "font": "Liberation Sans", "color": "#222", "baseline": "middle"},
   "encoding": {"x": {"field": "m", "type": "quantitative", "scale": {"domain": [41, 80], "nice": false, "zero": false}, "axis": null},
     "y": {"datum": 1.16, "type": "quantitative", "scale": {"domain": [0.4, 1.1], "nice": false, "zero": false}, "axis": null},
     "text": {"field": "n"}}},
  {"data": {"values": [{}]},
   "mark": {"type": "text", "fontSize": 34, "fontWeight": "bold", "font": "Liberation Sans", "align": "left", "baseline": "middle", "color": "#111"},
   "encoding": {"x": {"datum": 31.71, "type": "quantitative", "scale": {"domain": [41, 80], "nice": false, "zero": false}, "axis": null},
     "y": {"datum": 1.16, "type": "quantitative", "scale": {"domain": [0.4, 1.1], "nice": false, "zero": false}, "axis": null},
     "text": {"value": "B"}}}
 ]
}
]},
{
 "width": 491, "height": 313,
 "resolve": {"axis": {"x": "independent", "y": "independent"}},
 "layer": [
  {"data": {"name": "avg"}, "transform": [{"filter": "datum.p == 'C'"}],
   "mark": {"type": "rule", "strokeDash": [27, 27], "strokeWidth": 2},
   "encoding": {"y": {"field": "v", "type": "quantitative", "scale": {"domain": [0.4, 1.1], "nice": false, "zero": false}, "axis": null},
     "color": {"field": "s", "type": "nominal", "scale": {"domain": ["k","b","r","H","L","E"], "range": ["#1c1c1c","#2d55b5","#e0413a","#1c1c1c","#2fa7d9","#e23a6e"]}, "legend": null}}},
  {"data": {"name": "pts"}, "transform": [{"filter": "datum.p == 'C'"}],
   "mark": {"type": "rule", "strokeWidth": 1.3},
   "encoding": {"x": {"field": "r", "type": "quantitative", "scale": {"domain": [81, 124], "nice": false, "zero": false}, "axis": {"orient": "top", "values": [85,90,95,100,105,110,115,120], "labels": false, "title": null}},
     "y": {"field": "lo", "type": "quantitative", "scale": {"domain": [0.4, 1.1], "nice": false, "zero": false}, "axis": {"orient": "right", "values": [0.4,0.5,0.6,0.7,0.8,0.9,1.0], "labels": false, "title": null}},
     "y2": {"field": "hi"},
     "color": {"field": "s", "type": "nominal", "scale": {"domain": ["k","b","r","H","L","E"], "range": ["#1c1c1c","#2d55b5","#e0413a","#1c1c1c","#2fa7d9","#e23a6e"]}, "legend": null}}},
  {"data": {"name": "pts"}, "transform": [{"filter": "datum.p == 'C'"}],
   "mark": {"type": "tick", "orient": "horizontal", "size": 7, "thickness": 1.3},
   "encoding": {"x": {"field": "r", "type": "quantitative", "scale": {"domain": [81, 124], "nice": false, "zero": false}, "axis": null},
     "y": {"field": "lo", "type": "quantitative", "scale": {"domain": [0.4, 1.1], "nice": false, "zero": false}, "axis": null},
     "color": {"field": "s", "type": "nominal", "scale": {"domain": ["k","b","r","H","L","E"], "range": ["#1c1c1c","#2d55b5","#e0413a","#1c1c1c","#2fa7d9","#e23a6e"]}, "legend": null}}},
  {"data": {"name": "pts"}, "transform": [{"filter": "datum.p == 'C'"}],
   "mark": {"type": "tick", "orient": "horizontal", "size": 7, "thickness": 1.3},
   "encoding": {"x": {"field": "r", "type": "quantitative", "scale": {"domain": [81, 124], "nice": false, "zero": false}, "axis": null},
     "y": {"field": "hi", "type": "quantitative", "scale": {"domain": [0.4, 1.1], "nice": false, "zero": false}, "axis": null},
     "color": {"field": "s", "type": "nominal", "scale": {"domain": ["k","b","r","H","L","E"], "range": ["#1c1c1c","#2d55b5","#e0413a","#1c1c1c","#2fa7d9","#e23a6e"]}, "legend": null}}},
  {"data": {"name": "pts"}, "transform": [{"filter": "datum.p == 'C'"}],
   "mark": {"type": "circle", "size": 55, "opacity": 1},
   "encoding": {"x": {"field": "r", "type": "quantitative", "scale": {"domain": [81, 124], "nice": false, "zero": false}, "axis": {"orient": "bottom", "values": [85,90,95,100,105,110,115,120], "format": "d", "labelFontSize": 26, "labelPadding": 16, "labelFlush": false, "title": "Residue", "titleFontSize": 22, "titleY": 47, "titleBaseline": "middle"}},
     "y": {"field": "v", "type": "quantitative", "scale": {"domain": [0.4, 1.1], "nice": false, "zero": false}, "axis": {"orient": "left", "values": [0.4,0.5,0.6,0.7,0.8,0.9,1.0], "labelExpr": "round(datum.value*10) % 2 == 0 ? format(datum.value, '.1f') : ''", "labelFontSize": 24, "labelPadding": 18, "title": null}},
     "color": {"field": "s", "type": "nominal", "scale": {"domain": ["k","b","r","H","L","E"], "range": ["#1c1c1c","#2d55b5","#e0413a","#1c1c1c","#2fa7d9","#e23a6e"]}, "legend": null}}},
  {"data": {"name": "ss"}, "transform": [{"filter": "datum.p == 'C'"}],
   "mark": {"type": "rule", "strokeWidth": 3},
   "encoding": {"x": {"field": "a", "type": "quantitative", "scale": {"domain": [81, 124], "nice": false, "zero": false}, "axis": null},
     "x2": {"field": "b"},
     "y": {"datum": 1.133, "type": "quantitative", "scale": {"domain": [0.4, 1.1], "nice": false, "zero": false}, "axis": null},
     "color": {"field": "t", "type": "nominal", "scale": {"domain": ["k","b","r","H","L","E"], "range": ["#1c1c1c","#2d55b5","#e0413a","#1c1c1c","#2fa7d9","#e23a6e"]}, "legend": null}}},
  {"data": {"name": "ss"}, "transform": [{"filter": "datum.p == 'C'"}],
   "mark": {"type": "text", "fontSize": 19, "font": "Liberation Sans", "color": "#222", "baseline": "middle"},
   "encoding": {"x": {"field": "m", "type": "quantitative", "scale": {"domain": [81, 124], "nice": false, "zero": false}, "axis": null},
     "y": {"datum": 1.169, "type": "quantitative", "scale": {"domain": [0.4, 1.1], "nice": false, "zero": false}, "axis": null},
     "text": {"field": "n"}}},
  {"data": {"values": [{}]},
   "mark": {"type": "text", "fontSize": 34, "fontWeight": "bold", "font": "Liberation Sans", "align": "left", "baseline": "middle", "color": "#111"},
   "encoding": {"x": {"datum": 70.75, "type": "quantitative", "scale": {"domain": [81, 124], "nice": false, "zero": false}, "axis": null},
     "y": {"datum": 1.169, "type": "quantitative", "scale": {"domain": [0.4, 1.1], "nice": false, "zero": false}, "axis": null},
     "text": {"value": "C"}}}
 ]
}
]
}
